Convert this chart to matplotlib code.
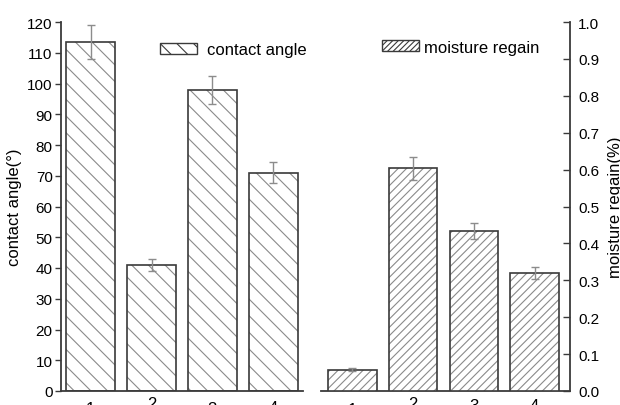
import numpy as np
import matplotlib
matplotlib.use("Agg")
import matplotlib.pyplot as plt
from matplotlib.patches import Patch

plt.rcParams['font.family'] = ['Liberation Sans', 'DejaVu Sans']
plt.rcParams['hatch.linewidth'] = 0.8

# sample ids
samples = ['1', '2', '3', '4']
# contact angle (degrees) and its error
contact_angle = [113.5, 41.0, 98.0, 71.0]
contact_err = [5.6, 2.0, 4.6, 3.5]
# moisture regain (%) and its error
moisture = [0.058, 0.603, 0.434, 0.320]
moisture_err = [0.003, 0.030, 0.021, 0.016]

edge_dark = '#3a3a3a'
hatch_gray = '#8a8a8a'
err_gray = '#8c8c8c'

fig = plt.figure(figsize=(6.2, 4.06), dpi=100)
ax = fig.add_axes([61 / 620, 14 / 406, 509 / 620, 369 / 406])
ax2 = ax.twinx()

x_left = np.arange(1, len(samples) + 1)
x_right = x_left + 4.3
width = 0.8


def hatched_bars(axis, x, vals, errs, hatch):
    # hatch drawn in lighter gray, outline in dark gray on top
    axis.bar(x, vals, width, color='white', edgecolor=hatch_gray, hatch=hatch,
             linewidth=0, zorder=2)
    axis.bar(x, vals, width, fill=False, edgecolor=edge_dark, linewidth=1.2,
             zorder=3)
    axis.errorbar(x, vals, yerr=errs, fmt='none', ecolor=err_gray,
                  elinewidth=1.0, capsize=3, capthick=1.0, zorder=4)


hatched_bars(ax, x_left, contact_angle, contact_err, '\\\\')
hatched_bars(ax2, x_right, moisture, moisture_err, '////')

ax.set_xlim(0.51, 8.88)
ax.set_ylim(0, 120)
ax2.set_ylim(0, 1.0)
ax.set_yticks(np.arange(0, 121, 10))
ax2.set_yticks(np.arange(0, 1.01, 0.1))
ax2.set_yticklabels([f'{v:.1f}' for v in np.arange(0, 1.01, 0.1)])

for s in ['top', 'right', 'bottom']:
    ax.spines[s].set_visible(False)
for s in ['top', 'left', 'bottom']:
    ax2.spines[s].set_visible(False)
ax.spines['left'].set_color(edge_dark)
ax.spines['left'].set_linewidth(1.3)
ax2.spines['right'].set_color(edge_dark)
ax2.spines['right'].set_linewidth(1.3)

# broken baseline under the two groups
ax.plot([0.51, 4.49], [0, 0], color=edge_dark, lw=1.3, clip_on=False, zorder=5)
ax.plot([4.79, 8.88], [0, 0], color=edge_dark, lw=1.3, clip_on=False, zorder=5)

ax.tick_params(axis='y', direction='out', length=4, width=1, color=edge_dark,
               labelsize=11, pad=2)
ax2.tick_params(axis='y', direction='in', length=5, width=1, color=edge_dark,
                labelsize=11, pad=6)
ax.set_xticks([])

# sample labels below each bar
label_drop = [0.028, 0.014, 0.026, 0.024]
label_drop_r = [0.030, 0.014, 0.020, 0.020]
for xi, lab, d in zip(x_left, samples, label_drop):
    ax.text(xi, -d, lab, transform=ax.get_xaxis_transform(), ha='center',
            va='top', fontsize=12)
for xi, lab, d in zip(x_right, samples, label_drop_r):
    ax.text(xi, -d, lab, transform=ax.get_xaxis_transform(), ha='center',
            va='top', fontsize=12)

ax.set_ylabel('contact angle(°)', fontsize=12, labelpad=4)
ax2.set_ylabel('moisture regain(%)', fontsize=12, labelpad=6)

h1 = Patch(facecolor='white', edgecolor=edge_dark, hatch='\\\\', linewidth=1.0)
h2 = Patch(facecolor='white', edgecolor=edge_dark, hatch='//////', linewidth=1.0)
leg1 = fig.legend([h1], ['contact angle'], loc='center left',
                  bbox_to_anchor=(145 / 620, 1 - 51 / 406), frameon=False,
                  fontsize=12, handlelength=2.2, handleheight=0.6,
                  handletextpad=0.6)
leg2 = fig.legend([h2], ['moisture regain'], loc='center left',
                  bbox_to_anchor=(367 / 620, 1 - 48 / 406), frameon=False,
                  fontsize=12, handlelength=2.2, handleheight=0.6,
                  handletextpad=0.3)

fig.savefig('out.png', dpi=100)
